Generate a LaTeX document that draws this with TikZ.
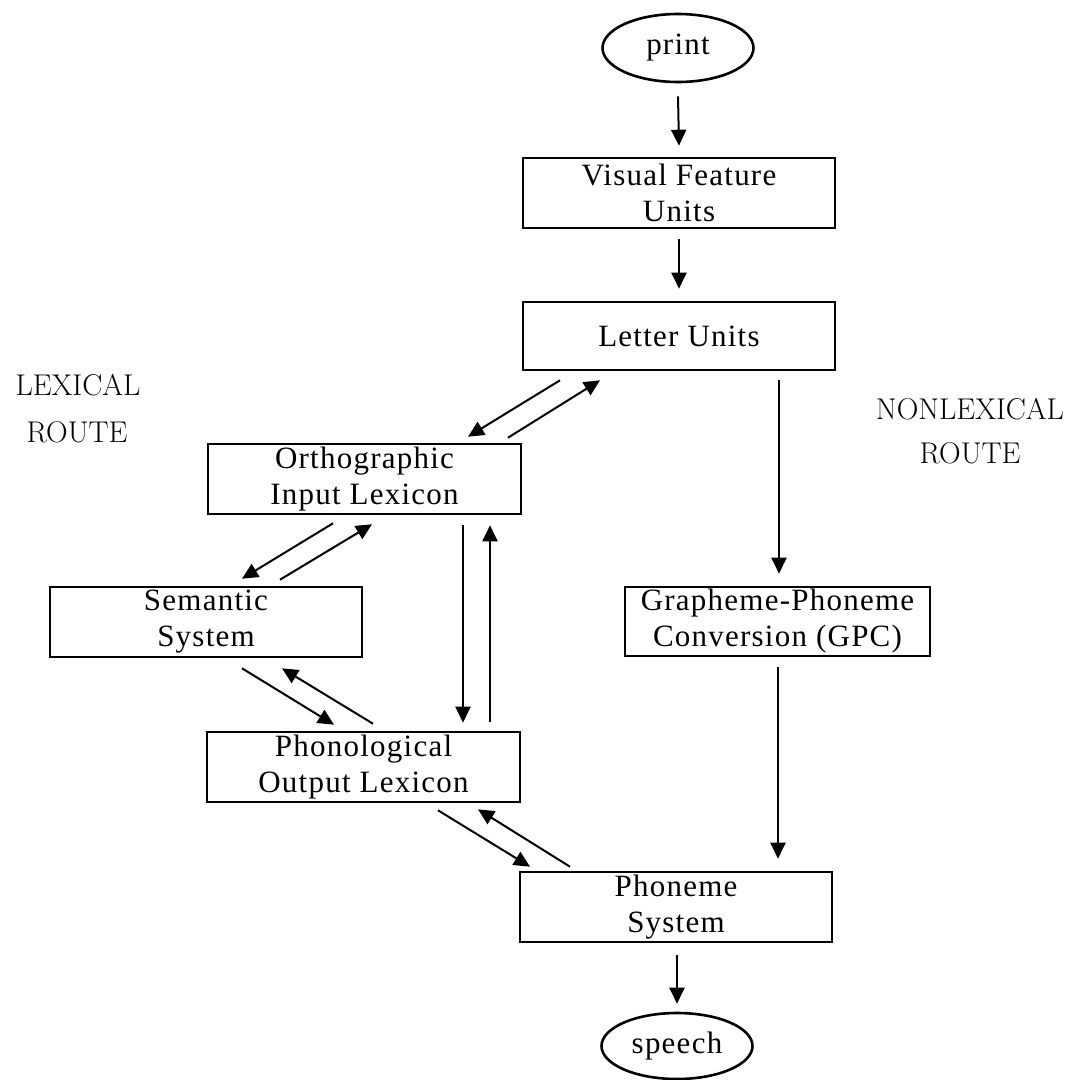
\documentclass[tikz,border=0pt]{standalone}
\usepackage{fontspec}
\newfontfamily\boxfont[LetterSpace=4]{Liberation Serif}
\usetikzlibrary{arrows.meta,shapes.geometric,calc}
\begin{document}
\begin{tikzpicture}[x=1pt,y=-1pt,
  boxnode/.style={draw,line width=2.6pt,rectangle,inner sep=0pt,align=center,
    font={\fontsize{31}{36}\selectfont\boxfont}},
  ellnode/.style={draw,line width=2.6pt,ellipse,inner sep=0pt,
    font={\fontsize{31}{36}\selectfont\boxfont}},
  routelabel/.style={anchor=base,inner sep=0pt,font={\fontsize{30}{36}\selectfont}},
  arr/.style={line width=2pt,-{Triangle[length=16pt,width=15pt]}}]
\useasboundingbox (0,0) rectangle (1078,1080);

\node[ellnode,minimum width=151,minimum height=68] (print) at (678,48) {print};
\node[boxnode,minimum width=312,minimum height=70] (vfu) at (679,193) {Visual Feature\\Units};
\node[boxnode,minimum width=312,minimum height=68] (letter) at (679,336) {Letter Units};
\node[boxnode,minimum width=313,minimum height=70] (ortho) at (364.5,479) {Orthographic\\Input Lexicon};
\node[boxnode,minimum width=312,minimum height=70] (sem) at (206,622) {Semantic\\System};
\node[boxnode,minimum width=305,minimum height=69] (gpc) at (777.5,621.5) {Grapheme-Phoneme\\Conversion (GPC)};
\node[boxnode,minimum width=313,minimum height=70] (phon) at (363.5,767) {Phonological\\Output Lexicon};
\node[boxnode,minimum width=312,minimum height=70] (phoneme) at (676,907) {Phoneme\\System};
\node[ellnode,minimum width=151,minimum height=66] (speech) at (677,1046) {speech};

\node[routelabel] (lex1) at (78,395) {LEXICAL};
\node[routelabel] (lex2) at (77,442) {ROUTE};
\node[routelabel] (nlex1) at (970,419) {NONLEXICAL};
\node[routelabel] (nlex2) at (970,463) {ROUTE};

\draw[arr] ([yshift=-13pt]print.south) -- ([yshift=11pt]vfu.north);
\draw[arr] ([yshift=-10pt]vfu.south) -- ([yshift=12pt]letter.north);
\draw[arr] ($(letter.south)+(-119,9)$) -- ($(ortho.north)+(103.5,-6)$);
\draw[arr] ($(ortho.north)+(143.5,-5)$) -- ($(letter.south)+(-79,9)$);
\draw[arr] ($(ortho.south)+(-31.5,8)$) -- ($(sem.north)+(36,-7)$);
\draw[arr] ($(sem.north)+(74,-6)$) -- ($(ortho.south)+(7.5,9)$);
\draw[arr] ($(ortho.south)+(98.5,10)$) -- ($(phon.north)+(99.5,-8)$);
\draw[arr] ($(phon.north)+(126.5,-9)$) -- ($(ortho.south)+(125.5,10)$);
\draw[arr] ($(sem.south)+(36,10)$) -- ($(phon.north)+(-29.5,-6)$);
\draw[arr] ($(phon.north)+(9.5,-7)$) -- ($(sem.south)+(76,10)$);
\draw[arr] ($(phon.south)+(74.5,7)$) -- ($(phoneme.north)+(-146,-4)$);
\draw[arr] ($(phoneme.north)+(-106,-4)$) -- ($(phon.south)+(114.5,6)$);
\draw[arr] ($(phoneme.south)+(1,12)$) -- ($(speech.north)+(0,-8)$);
\draw[arr] ($(letter.south)+(100,9)$) -- ($(gpc.north)+(1.5,-12)$);
\draw[arr] ($(gpc.south)+(0.5,10)$) -- ($(phoneme.north)+(102,-12)$);
\end{tikzpicture}
\end{document}
